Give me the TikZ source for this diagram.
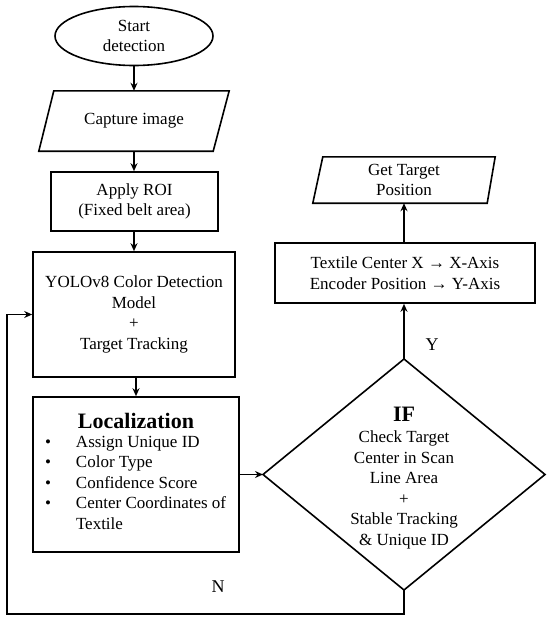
\documentclass[tikz,border=0pt]{standalone}
\usepackage{fontspec}
\setmainfont{Liberation Serif}
\usetikzlibrary{shapes.geometric,arrows.meta}
\tikzset{
  ln/.style={line width=1.6pt, line join=miter},
  arr/.style={ln, -{Stealth[length=8pt,width=7pt]}},
  box/.style={draw, ln, rectangle, inner sep=0pt, align=center, font=\fontsize{17}{20.5}\selectfont},
  plain/.style={rectangle, inner sep=0pt, align=center, font=\fontsize{17}{20.5}\selectfont},
  lbl/.style={inner sep=0pt, font=\fontsize{18}{20}\selectfont}
}
\begin{document}
\begin{tikzpicture}[x=1pt,y=-1pt]
\useasboundingbox (0,0) rectangle (550,621);
\fill[white] (0,0) rectangle (550,621);
% start
\node[draw, ln, ellipse, inner sep=0pt, minimum width=158pt, minimum height=59pt, align=center, font=\fontsize{17}{20.5}\selectfont] (start) at (134,36) {Start\\detection};
% capture
\node[plain, minimum width=190pt, minimum height=60pt] (cap) at (134,121) {Capture image};
\draw[ln] ([xshift=15pt]cap.north west) -- (cap.north east) -- ([xshift=-16pt]cap.south east) -- (cap.south west) -- cycle;
% ROI
\node[box, minimum width=167pt, minimum height=59pt] (roi) at (134.5,201.5) {Apply ROI\\(Fixed belt area)};
% YOLO
\node[box, minimum width=202pt, minimum height=125pt] (yolo) at (134,314.5) {YOLOv8 Color Detection\\Model\\+\\Target Tracking};
% Localization
\node[box, minimum width=206pt, minimum height=155pt] (loc) at (136,474.5) {%
\begin{minipage}{200pt}\centering
{\fontsize{22}{24}\selectfont\bfseries Localization}\par\vspace{3pt}
\raggedright
\begin{tabular}{@{}p{40pt}@{}l@{}}
\hspace{9pt}\textbullet & Assign Unique ID\\
\hspace{9pt}\textbullet & Color Type\\
\hspace{9pt}\textbullet & Confidence Score\\
\hspace{9pt}\textbullet & Center Coordinates of\\
 & Textile
\end{tabular}
\end{minipage}};
% decision
\coordinate (ifT) at (404,359);
\coordinate (ifB) at (404,590);
\coordinate (ifL) at (263,474.5);
\coordinate (ifR) at (545,474.5);
\draw[ln] (ifT) -- (ifR) -- (ifB) -- (ifL) -- cycle;
\node[plain] (ifc) at (404,478) {{\fontsize{22}{24}\selectfont\bfseries IF}\\[1pt]Check Target\\Center in Scan\\Line Area\\+\\Stable Tracking\\\& Unique ID};
% textile
\node[box, minimum width=260pt, minimum height=60pt] (tex) at (405,273) {Textile Center X → X-Axis\\Encoder Position → Y-Axis};
% get target
\node[plain, minimum width=182pt, minimum height=46pt] (get) at (404,180) {Get Target\\Position};
\draw[ln] ([xshift=10pt]get.north west) -- (get.north east) -- ([xshift=-8pt]get.south east) -- (get.south west) -- cycle;
% connectors
\draw[arr] (start.south) -- (cap.north);
\draw[arr] (cap.south) -- (roi.north -| cap.south);
\draw[arr] (roi.south -| cap.south) -- (yolo.north -| cap.south);
\draw[arr] (yolo.south -| loc.north) -- (loc.north);
\draw[arr] (loc.east |- ifL) -- (ifL);
\draw[arr] (ifT) -- (tex.south -| ifT);
\draw[arr] (tex.north -| ifT) -- (get.south);
\coordinate (nb) at (404,614);
\coordinate (nl) at (7,614);
\draw[arr] (ifB) -- (nb) -- (nl) |- (yolo.west);
% labels
\node[lbl] (ylab) at (432,345) {Y};
\node[lbl] (nlab) at (218,587) {N};
\end{tikzpicture}
\end{document}
